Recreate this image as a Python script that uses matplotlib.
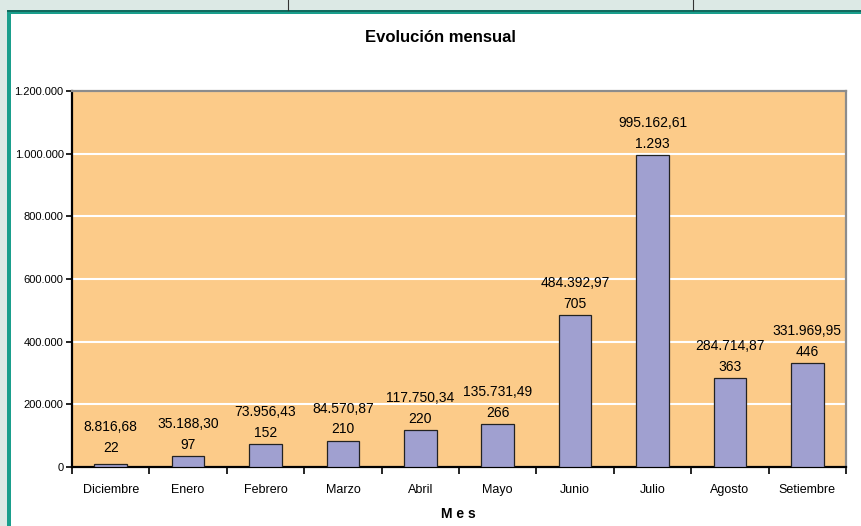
import matplotlib
matplotlib.use("Agg")
import matplotlib.pyplot as plt
from matplotlib.patches import Rectangle
from matplotlib.lines import Line2D

months = ["Diciembre", "Enero", "Febrero", "Marzo", "Abril", "Mayo",
          "Junio", "Julio", "Agosto", "Setiembre"]
amounts = [8816.68, 35188.30, 73956.43, 84570.87, 117750.34, 135731.49,
           484392.97, 995162.61, 284714.87, 331969.95]
amount_labels = ["8.816,68", "35.188,30", "73.956,43", "84.570,87", "117.750,34",
                 "135.731,49", "484.392,97", "995.162,61", "284.714,87", "331.969,95"]
counts = [22, 97, 152, 210, 220, 266, 705, 1293, 363, 446]
count_labels = ["22", "97", "152", "210", "220", "266", "705", "1.293", "363", "446"]
yticks = [0, 200000, 400000, 600000, 800000, 1000000, 1200000]
ytick_labels = ["0", "200.000", "400.000", "600.000", "800.000", "1.000.000", "1.200.000"]

plt.rcParams['font.family'] = ['Liberation Sans', 'DejaVu Sans']

W, H = 862, 526
fig = plt.figure(figsize=(W / 100, H / 100), dpi=100)
fig.patch.set_facecolor("#dce9e5")

def frect(x, y, w, h, color, z=0):
    fig.patches.append(Rectangle((x / W, 1 - (y + h) / H), w / W, h / H,
                                 transform=fig.transFigure, facecolor=color,
                                 edgecolor="none", zorder=z))

# white panel with teal border
frect(7, 10, W - 7, H - 10, "#1a9e8c", 1)
frect(7, 10, W - 7, 1.5, "#116a5e", 2)
frect(11, 14, W - 11, H - 14, "white", 3)
# top strip separators
for xv in (288, 693):
    fig.lines.append(Line2D([xv / W, xv / W], [1 - 10 / H, 1.0],
                            transform=fig.transFigure, color="#333333", lw=0.8, zorder=4))

ax = fig.add_axes([72 / W, (H - 467) / H, (846 - 72) / W, (467 - 91) / H])
ax.set_zorder(5)
ax.set_facecolor("#fccb89")

x = list(range(len(months)))
ax.bar(x, amounts, width=0.42, color="#a0a0d0", edgecolor="#222222", linewidth=0.9, zorder=3)

ax.set_xlim(-0.5, len(months) - 0.5)
ax.set_ylim(0, 1200000)
ax.set_yticks(yticks)
ax.set_yticklabels(ytick_labels, fontsize=8)
ax.yaxis.grid(True, color="white", lw=1.5, zorder=1)
ax.set_axisbelow(True)

ax.set_xticks([i - 0.5 for i in range(len(months) + 1)])
ax.set_xticklabels([])
ax.set_xticks(x, minor=True)
ax.set_xticklabels(months, minor=True, fontsize=9)
ax.tick_params(axis="x", which="minor", length=0, pad=12)
ax.tick_params(axis="x", which="major", length=5, width=1.2, direction="out", color="black")
ax.tick_params(axis="y", length=4, width=1.2, direction="out", color="black", pad=2)

for s in ("left", "bottom"):
    ax.spines[s].set_color("black")
    ax.spines[s].set_linewidth(1.6)
for s in ("top", "right"):
    ax.spines[s].set_color("#8c8c8c")
    ax.spines[s].set_linewidth(1.6)

for i, (v, al, cl) in enumerate(zip(amounts, amount_labels, count_labels)):
    base = max(v, 25000)
    ax.annotate(cl, (i, base), xytext=(0, 3), textcoords="offset points",
                ha="center", va="bottom", fontsize=10, zorder=6)
    ax.annotate(al, (i, base), xytext=(0, 18), textcoords="offset points",
                ha="center", va="bottom", fontsize=10, zorder=6)

fig.text(440 / W, 1 - 38 / H, "Evolución mensual", ha="center", va="center",
         fontsize=12, fontweight="bold", zorder=10)
fig.text(458 / W, 1 - 514 / H, "M e s", ha="center", va="center",
         fontsize=10, fontweight="bold", zorder=10)

fig.savefig("out.png", dpi=100, facecolor=fig.get_facecolor())
